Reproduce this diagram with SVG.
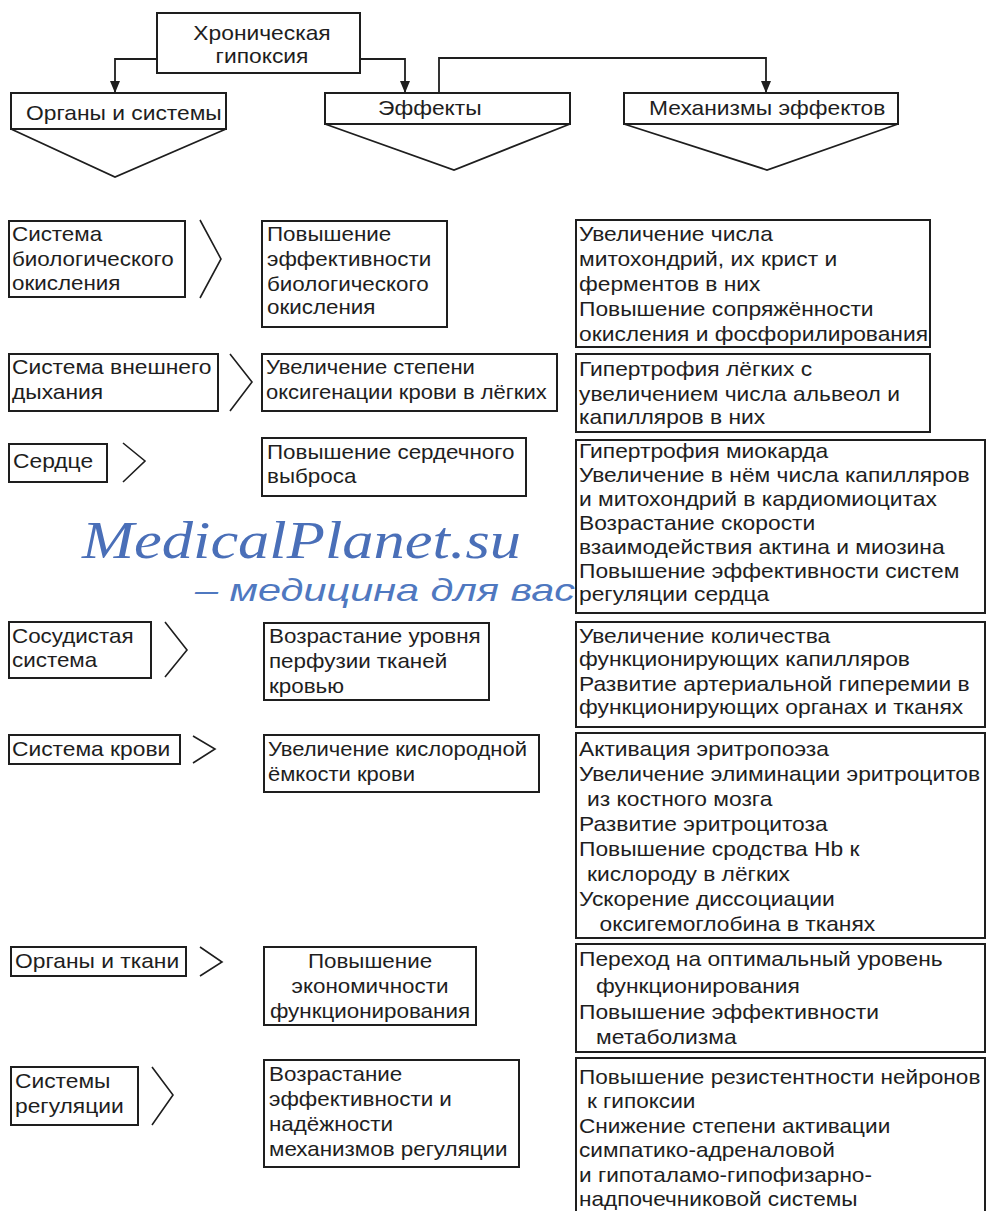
<svg xmlns="http://www.w3.org/2000/svg" width="988" height="1211" viewBox="0 0 988 1211">
<style>
.b{fill:#fff;stroke:#1e1e1e;stroke-width:2}
.p{fill:none;stroke:#1e1e1e;stroke-width:1.8}
.c{fill:none;stroke:#1e1e1e;stroke-width:1.6}
.t{font-family:"Liberation Sans",Arial,sans-serif;font-size:20px;fill:#1e1e1e}
.m{text-anchor:middle}
.wm1{font-family:"Liberation Serif","Times New Roman",serif;font-style:italic;font-size:52px;fill:#4a6fb8}
.wm2{font-family:"Liberation Sans",Arial,sans-serif;font-style:italic;font-size:32px;fill:#4f78c0}
</style>
<defs>
<marker id="ah" markerUnits="userSpaceOnUse" markerWidth="12" markerHeight="10" refX="12" refY="5" orient="auto">
<path d="M0,0 L12,5 L0,10 z" fill="#1e1e1e"/>
</marker>
</defs>
<rect width="988" height="1211" fill="#fff"/>

<g id="connectors">
<path class="p" d="M157,59 H115 V93" marker-end="url(#ah)"/>
<path class="p" d="M360,59 H405 V93" marker-end="url(#ah)"/>
<path class="p" d="M439,93 V58 H766 V93" marker-end="url(#ah)"/>
</g>

<g id="hypoxia">
<rect class="b" x="157" y="13" width="203" height="60"/>
<text class="t m" transform="matrix(1.14 0 0 1 262 40)"><tspan x="0" y="0">Хроническая</tspan><tspan x="0" y="23">гипоксия</tspan></text>
</g>

<g id="head-organs">
<rect class="b" x="11" y="93" width="215" height="36"/>
<polyline class="p" points="11,129 115,177 226,129"/>
<text class="t" transform="matrix(1.14 0 0 1 26 120)">Органы и системы</text>
</g>
<g id="head-effects">
<rect class="b" x="325" y="93" width="245" height="31"/>
<polyline class="p" points="325,124 454,170 570,124"/>
<text class="t" transform="matrix(1.14 0 0 1 378 115)">Эффекты</text>
</g>
<g id="head-mech">
<rect class="b" x="624" y="93" width="274" height="31"/>
<polyline class="p" points="624,124 767,170 898,124"/>
<text class="t" transform="matrix(1.14 0 0 1 649 115)">Механизмы эффектов</text>
</g>

<!-- Row 1 -->
<g id="org1">
<rect class="b" x="9" y="221" width="176" height="76"/>
<polyline class="c" points="200,220 221,259 200,298"/>
<text class="t" transform="matrix(1.12 0 0 1 12 241)"><tspan x="0" y="0">Система</tspan><tspan x="0" y="25">биологического</tspan><tspan x="0" y="49">окисления</tspan></text>
</g>
<g id="eff1">
<rect class="b" x="262" y="221" width="185" height="106"/>
<text class="t" transform="matrix(1.12 0 0 1 267 241)"><tspan x="0" y="0">Повышение</tspan><tspan x="0" y="25">эффективности</tspan><tspan x="0" y="50">биологического</tspan><tspan x="0" y="73">окисления</tspan></text>
</g>
<g id="mech1">
<rect class="b" x="576" y="220" width="354" height="127"/>
<text class="t" transform="matrix(1.14 0 0 1 579 241)"><tspan x="0" y="0">Увеличение числа</tspan><tspan x="0" y="25">митохондрий, их крист и</tspan><tspan x="0" y="50">ферментов в них</tspan><tspan x="0" y="75">Повышение сопряжённости</tspan><tspan x="0" y="100">окисления и фосфорилирования</tspan></text>
</g>

<!-- Row 2 -->
<g id="org2">
<rect class="b" x="9" y="354" width="209" height="57"/>
<polyline class="c" points="230,354 252,382 230,411"/>
<text class="t" transform="matrix(1.14 0 0 1 12 374)"><tspan x="0" y="0">Система внешнего</tspan><tspan x="0" y="25">дыхания</tspan></text>
</g>
<g id="eff2">
<rect class="b" x="262" y="354" width="295" height="57"/>
<text class="t" transform="matrix(1.1 0 0 1 266 374)"><tspan x="0" y="0">Увеличение степени</tspan><tspan x="0" y="25">оксигенации крови в лёгких</tspan></text>
</g>
<g id="mech2">
<rect class="b" x="576" y="354" width="354" height="78"/>
<text class="t" transform="matrix(1.14 0 0 1 579 376)"><tspan x="0" y="0">Гипертрофия лёгких с</tspan><tspan x="0" y="25">увеличением числа альвеол и</tspan><tspan x="0" y="48">капилляров в них</tspan></text>
</g>

<!-- Row 3 -->
<g id="org3">
<rect class="b" x="9" y="444" width="98" height="38"/>
<polyline class="c" points="123,443 145,461 123,482"/>
<text class="t" transform="matrix(1.14 0 0 1 13 468)">Сердце</text>
</g>
<g id="eff3">
<rect class="b" x="262" y="438" width="264" height="58"/>
<text class="t" transform="matrix(1.12 0 0 1 267 459)"><tspan x="0" y="0">Повышение сердечного</tspan><tspan x="0" y="24">выброса</tspan></text>
</g>

<g id="watermark">
<text class="wm1" x="82" y="558" textLength="439" lengthAdjust="spacingAndGlyphs">MedicalPlanet.su</text>
<text class="wm2" x="195" y="601" textLength="380" lengthAdjust="spacingAndGlyphs">– медицина для вас</text>
</g>

<g id="mech3">
<rect class="b" x="576" y="440" width="409" height="173"/>
<text class="t" transform="matrix(1.14 0 0 1 579 458)"><tspan x="0" y="0">Гипертрофия миокарда</tspan><tspan x="0" y="24">Увеличение в нём числа капилляров</tspan><tspan x="0" y="48">и митохондрий в кардиомиоцитах</tspan><tspan x="0" y="72">Возрастание скорости</tspan><tspan x="0" y="96">взаимодействия актина и миозина</tspan><tspan x="0" y="120">Повышение эффективности систем</tspan><tspan x="0" y="143">регуляции сердца</tspan></text>
</g>

<!-- Row 4 -->
<g id="org4">
<rect class="b" x="9" y="622" width="142" height="56"/>
<polyline class="c" points="165,622 187,650 165,677"/>
<text class="t" transform="matrix(1.12 0 0 1 12 643)"><tspan x="0" y="0">Сосудистая</tspan><tspan x="0" y="24">система</tspan></text>
</g>
<g id="eff4">
<rect class="b" x="264" y="623" width="225" height="77"/>
<text class="t" transform="matrix(1.12 0 0 1 269 643)"><tspan x="0" y="0">Возрастание уровня</tspan><tspan x="0" y="25">перфузии тканей</tspan><tspan x="0" y="50">кровью</tspan></text>
</g>
<g id="mech4">
<rect class="b" x="576" y="622" width="409" height="105"/>
<text class="t" transform="matrix(1.14 0 0 1 579 643)"><tspan x="0" y="0">Увеличение количества</tspan><tspan x="0" y="23">функционирующих капилляров</tspan><tspan x="0" y="48">Развитие артериальной гиперемии в</tspan><tspan x="0" y="71">функционирующих органах и тканях</tspan></text>
</g>

<!-- Row 5 -->
<g id="org5">
<rect class="b" x="9" y="735" width="171" height="29"/>
<polyline class="c" points="193,736 215,749 193,763"/>
<text class="t" transform="matrix(1.14 0 0 1 12 756)">Система крови</text>
</g>
<g id="eff5">
<rect class="b" x="264" y="735" width="275" height="57"/>
<text class="t" transform="matrix(1.1 0 0 1 268 756)"><tspan x="0" y="0">Увеличение кислородной</tspan><tspan x="0" y="25">ёмкости крови</tspan></text>
</g>
<g id="mech5">
<rect class="b" x="576" y="733" width="409" height="205"/>
<text class="t" transform="matrix(1.14 0 0 1 579 756)"><tspan x="0" y="0">Активация эритропоэза</tspan><tspan x="0" y="25">Увеличение элиминации эритроцитов</tspan><tspan x="7" y="50">из костного мозга</tspan><tspan x="0" y="75">Развитие эритроцитоза</tspan><tspan x="0" y="100">Повышение сродства Hb к</tspan><tspan x="7" y="125">кислороду в лёгких</tspan><tspan x="0" y="150">Ускорение диссоциации</tspan><tspan x="18" y="175">оксигемоглобина в тканях</tspan></text>
</g>

<!-- Row 6 -->
<g id="org6">
<rect class="b" x="11" y="947" width="175" height="29"/>
<polyline class="c" points="200,947 222,962 200,976"/>
<text class="t" transform="matrix(1.14 0 0 1 15 968)">Органы и ткани</text>
</g>
<g id="eff6">
<rect class="b" x="264" y="947" width="212" height="78"/>
<text class="t m" transform="matrix(1.12 0 0 1 370 968)"><tspan x="0" y="0">Повышение</tspan><tspan x="0" y="25">экономичности</tspan><tspan x="0" y="50">функционирования</tspan></text>
</g>
<g id="mech6">
<rect class="b" x="576" y="944" width="409" height="108"/>
<text class="t" transform="matrix(1.14 0 0 1 579 966)"><tspan x="0" y="0">Переход на оптимальный уровень</tspan><tspan x="15" y="27">функционирования</tspan><tspan x="0" y="53">Повышение эффективности</tspan><tspan x="15" y="78">метаболизма</tspan></text>
</g>

<!-- Row 7 -->
<g id="org7">
<rect class="b" x="11" y="1067" width="127" height="58"/>
<polyline class="c" points="152,1067 173,1095 152,1125"/>
<text class="t" transform="matrix(1.14 0 0 1 15 1088)"><tspan x="0" y="0">Системы</tspan><tspan x="0" y="25">регуляции</tspan></text>
</g>
<g id="eff7">
<rect class="b" x="264" y="1060" width="255" height="107"/>
<text class="t" transform="matrix(1.12 0 0 1 269 1081)"><tspan x="0" y="0">Возрастание</tspan><tspan x="0" y="25">эффективности и</tspan><tspan x="0" y="50">надёжности</tspan><tspan x="0" y="75">механизмов регуляции</tspan></text>
</g>
<g id="mech7">
<rect class="b" x="576" y="1058" width="409" height="154"/>
<text class="t" transform="matrix(1.13 0 0 1 579 1084)"><tspan x="0" y="0">Повышение резистентности нейронов</tspan><tspan x="7" y="24">к гипоксии</tspan><tspan x="0" y="49">Снижение степени активации</tspan><tspan x="0" y="73">симпатико-адреналовой</tspan><tspan x="0" y="98">и гипоталамо-гипофизарно-</tspan><tspan x="0" y="122">надпочечниковой системы</tspan></text>
</g>
</svg>
